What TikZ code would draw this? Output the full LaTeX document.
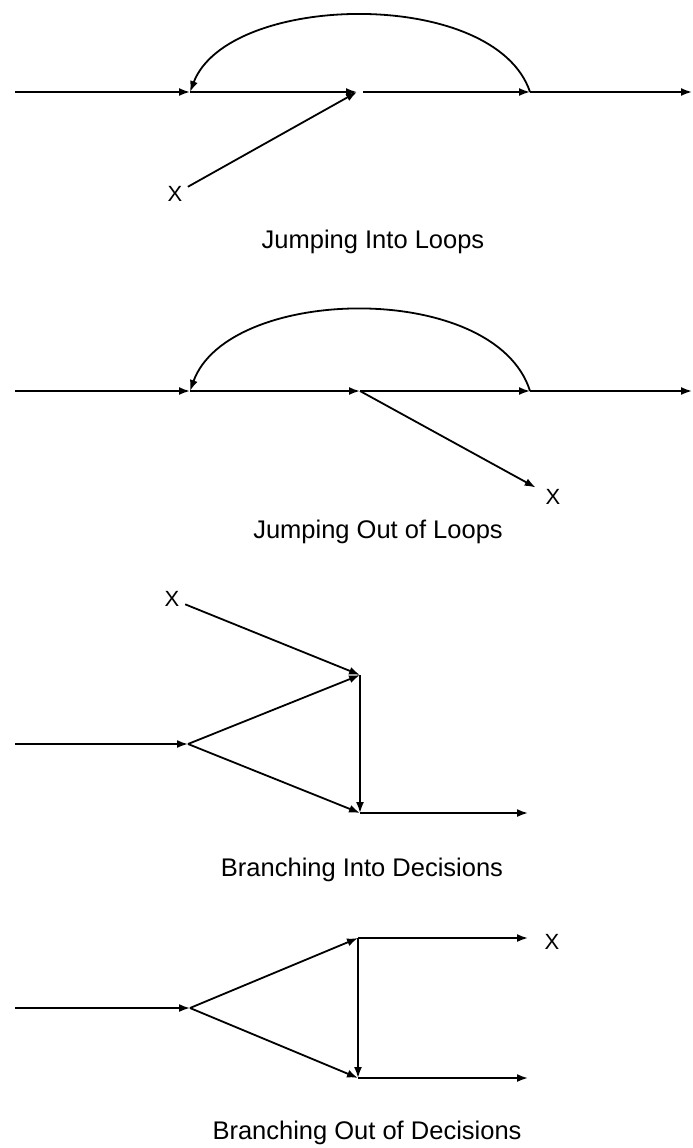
\documentclass[tikz,border=0pt]{standalone}
\usepackage{fontspec}
\setmainfont{Liberation Sans}
\usetikzlibrary{arrows.meta}
\begin{document}
\begin{tikzpicture}[x=1pt,y=-1pt,
  flow/.style={line width=1.8pt,-{Latex[length=11pt,width=8pt]}},
  caption/.style={font=\fontsize{25.5}{30}\selectfont, inner sep=0pt},
  xl/.style={font=\fontsize{22}{26}\selectfont, inner sep=1pt}]
\useasboundingbox[fill=white] (0,0) rectangle (693,1148);

% ---------- Jumping Into Loops ----------
\coordinate (a1s) at (15,92);
\coordinate (a1A) at (190,92);
\coordinate (a1M) at (357,92);
\coordinate (a1B) at (530,92);
\coordinate (a1e) at (692,92);
\node[xl] (a1x) at (175,194) {X};
\draw[flow] (a1s) -- (a1A);
\draw[flow] (a1A) -- (a1M);
\draw[flow, shorten <=6pt] (a1M) -- (a1B);
\draw[flow] (a1B) -- (a1e);
\draw[flow] (a1B) .. controls (495,-13) and (228,-8) .. (a1A);
\draw[flow, shorten <=5pt] (a1x) -- (a1M);
\node[caption] (c1) at (373,242) {Jumping Into Loops};

% ---------- Jumping Out of Loops ----------
\coordinate (b2s) at (15,391);
\coordinate (b2A) at (190,391);
\coordinate (b2M) at (360,391);
\coordinate (b2B) at (530,391);
\coordinate (b2e) at (692,391);
\node[xl] (b2x) at (553,497) {X};
\draw[flow] (b2s) -- (b2A);
\draw[flow] (b2A) -- (b2M);
\draw[flow] (b2M) -- (b2B);
\draw[flow] (b2B) -- (b2e);
\draw[flow] (b2B) .. controls (495,280) and (228,285) .. (b2A);
\draw[flow, shorten >=10pt] (b2M) -- (b2x);
\node[caption] (c2) at (378,532) {Jumping Out of Loops};

% ---------- Branching Into Decisions ----------
\coordinate (c3s) at (15,744);
\coordinate (c3L) at (188,744);
\coordinate (c3T) at (360,675);
\coordinate (c3B) at (360,813);
\coordinate (c3e) at (528,813);
\node[xl] (c3x) at (172,599) {X};
\draw[flow] (c3s) -- (c3L);
\draw[flow] (c3L) -- (c3T);
\draw[flow] (c3L) -- (c3B);
\draw[flow] (c3T) -- (c3B);
\draw[flow] (c3B) -- (c3e);
\draw[flow, shorten <=5pt] (c3x) -- (c3T);
\node[caption] (c3) at (362,870) {Branching Into Decisions};

% ---------- Branching Out of Decisions ----------
\coordinate (d4s) at (15,1008);
\coordinate (d4L) at (190,1008);
\coordinate (d4T) at (358,938);
\coordinate (d4B) at (358,1078);
\coordinate (d4te) at (528,938);
\coordinate (d4be) at (528,1078);
\node[xl] (d4x) at (552,942) {X};
\draw[flow] (d4s) -- (d4L);
\draw[flow] (d4L) -- (d4T);
\draw[flow] (d4L) -- (d4B);
\draw[flow] (d4T) -- (d4B);
\draw[flow] (d4T) -- (d4te);
\draw[flow] (d4B) -- (d4be);
\node[caption] (c4) at (367,1133) {Branching Out of Decisions};
\end{tikzpicture}
\end{document}
